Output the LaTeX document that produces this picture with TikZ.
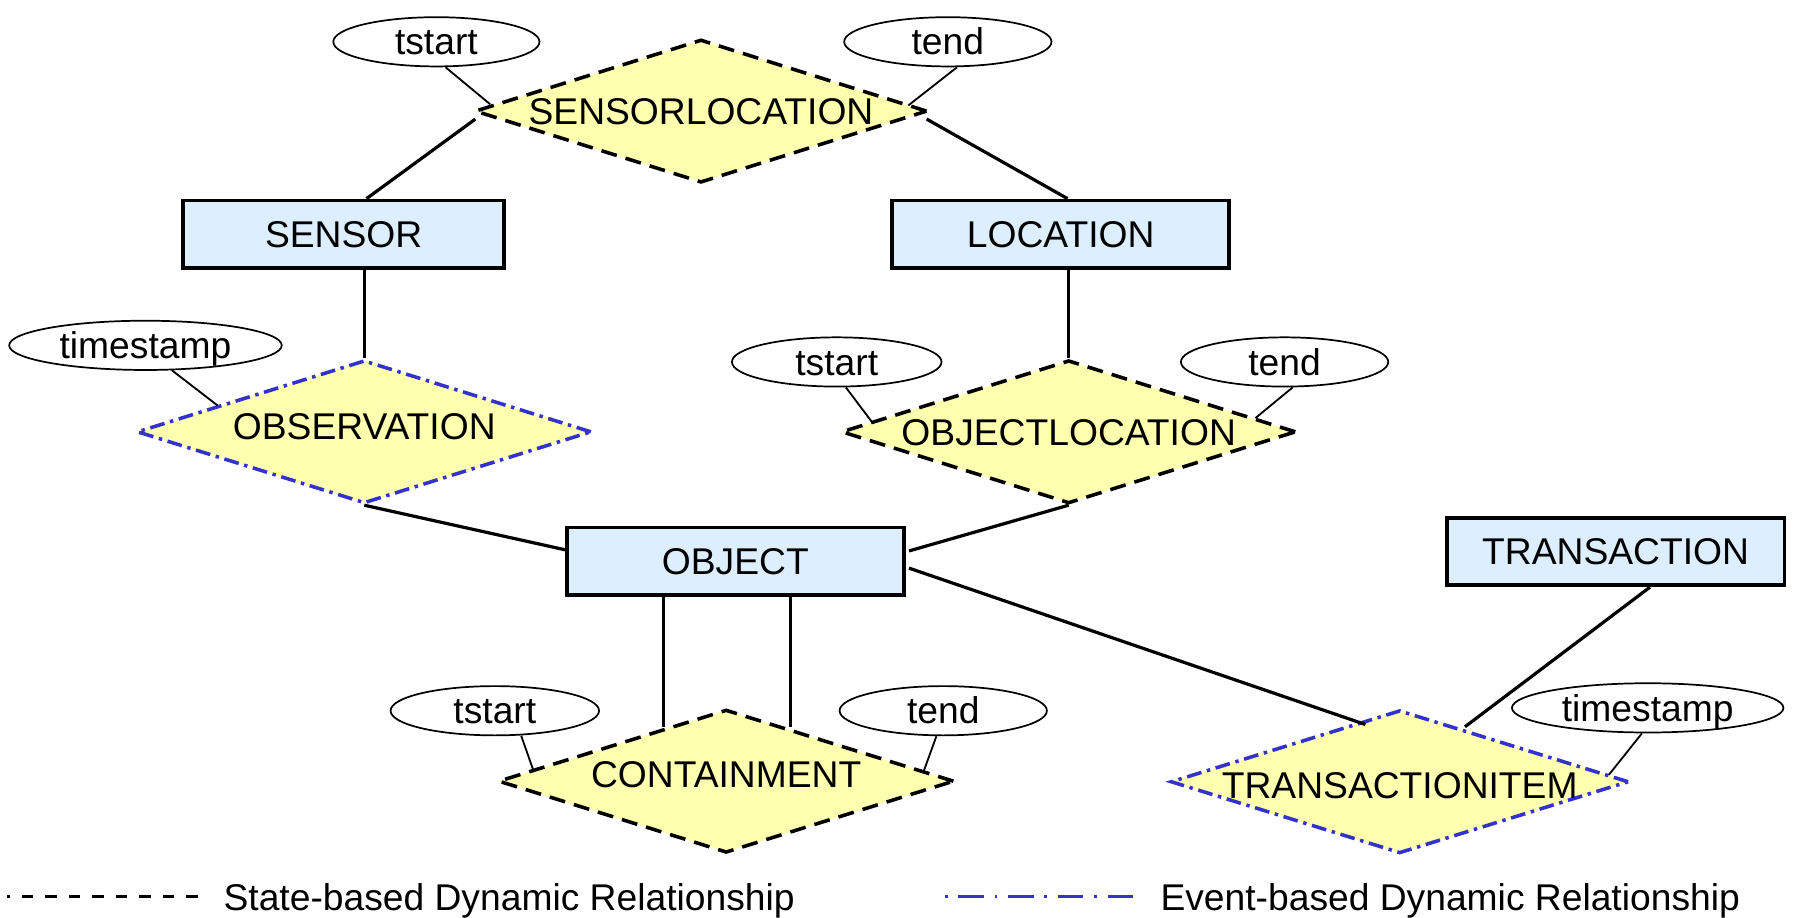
\documentclass[tikz,border=0pt]{standalone}
\usepackage{fontspec}
\setmainfont{Liberation Sans}
\usetikzlibrary{shapes.geometric}
\definecolor{entityfill}{RGB}{221,238,255}
\definecolor{relfill}{RGB}{255,255,176}
\definecolor{eventblue}{RGB}{51,51,204}
\begin{document}
\begin{tikzpicture}[x=1pt,y=-1pt,
  every node/.style={font=\fontsize{32.5}{38}\selectfont, text height=23pt, text depth=0pt},
  entity/.style={rectangle, draw, line width=3.2pt, fill=entityfill, minimum height=59pt, inner sep=0pt},
  rel/.style={diamond, fill=relfill, inner sep=0pt, minimum width=398pt, minimum height=125pt, line width=3.1pt},
  staterel/.style={rel, draw=black, dash pattern=on 14pt off 8pt},
  eventrel/.style={rel, draw=eventblue, dash pattern=on 13pt off 5pt on 3pt off 5pt},
  attr/.style={ellipse, draw, line width=1.5pt, fill=white, inner sep=0pt, minimum height=43pt},
  link/.style={line width=2.8pt},
  attrlink/.style={line width=1.6pt},
]
\useasboundingbox (0,0) rectangle (1568,801);

% entities
\node[entity, minimum width=280pt] (sensor) at (300,204.5) {SENSOR};
\node[entity, minimum width=294pt] (location) at (926,204.5) {LOCATION};
\node[entity, minimum width=294pt] (object) at (642,490) {OBJECT};
\node[entity, minimum width=295pt] (transaction) at (1410.5,481.5) {TRANSACTION};

% relationships
\node[staterel, minimum width=395pt, label={center:SENSORLOCATION}] (sl) at (612,97) {};
\node[eventrel, minimum width=397pt, label={[yshift=5pt]center:OBSERVATION}] (obs) at (318,377) {};
\node[staterel, minimum width=397pt, label={center:OBJECTLOCATION}] (ol) at (933,377) {};
\node[staterel, minimum width=398pt, label={[yshift=6pt]center:CONTAINMENT}] (cont) at (634,682) {};
\node[eventrel, minimum width=400pt, label={[yshift=-3pt]center:TRANSACTIONITEM}] (ti) at (1222,682.5) {};

% attributes
\node[attr, minimum width=180pt] (a1) at (381,36.5) {tstart};
\node[attr, minimum width=181pt] (a2) at (827.5,36.5) {tend};
\node[attr, minimum width=238pt] (a3) at (127,301.5) {timestamp};
\node[attr, minimum width=183pt] (a4) at (730.5,316) {tstart};
\node[attr, minimum width=181pt] (a5) at (1121.5,316) {tend};
\node[attr, minimum width=182pt] (a6) at (432,620.5) {tstart};
\node[attr, minimum width=181pt] (a7) at (823.5,620.5) {tend};
\node[attr, minimum width=237pt] (a8) at (1438.5,618) {timestamp};

% relationship links
\draw[link] ([xshift=20pt]sensor.north) -- ([shift={(2,7)}]sl.west);
\draw[link] ([xshift=6pt]location.north) -- ([shift={(-2,7)}]sl.east);
\draw[link] ([xshift=18pt]sensor.south) -- (obs.north);
\draw[link] ([xshift=7pt]location.south) -- (ol.north);
\draw[link] (obs.south) -- ([shift={(0,-10)}]object.west);
\draw[link] (ol.south) -- ([shift={(3,-9)}]object.east);
\draw[link] ([xshift=-63pt]object.south) -- ([shift={(-55,-47)}]cont.center);
\draw[link] ([xshift=48pt]object.south) -- ([shift={(56,-47)}]cont.center);
\draw[link] ([shift={(3,6)}]object.east) -- ([shift={(-30,-50)}]ti.center);
\draw[link] ([xshift=30pt]transaction.south) -- ([shift={(57,-48)}]ti.center);

% attribute links
\draw[attrlink] ([xshift=8pt]a1.south) -- ([shift={(15,-6)}]sl.west);
\draw[attrlink] ([xshift=8pt]a2.south) -- ([shift={(-18,-5)}]sl.east);
\draw[attrlink] ([shift={(23,-0.5)}]a3.south) -- ([shift={(72,-23)}]obs.west);
\draw[attrlink] ([xshift=8pt]a4.south) -- ([shift={(28,-9)}]ol.west);
\draw[attrlink] ([xshift=7pt]a5.south) -- ([shift={(-37,-12)}]ol.east);
\draw[attrlink] ([shift={(23,-0.5)}]a6.south) -- ([shift={(32,-10)}]cont.west);
\draw[attrlink] ([xshift=-6pt]a7.south) -- ([shift={(-28,-9)}]cont.east);
\draw[attrlink] ([xshift=-5pt]a8.south) -- ([shift={(-19,-6)}]ti.east);

% legend
\coordinate (ls1) at (6,783);
\coordinate (ls2) at (175,783);
\coordinate (le1) at (825,783);
\coordinate (le2) at (992,783);
\draw[line width=2.5pt, dash pattern=on 10pt off 10.5pt, dash phase=7.5pt] (ls1) -- (ls2);
\draw[line width=2.5pt, eventblue, dash pattern=on 2.4pt off 9.3pt on 22.4pt off 9.3pt] (le1) -- (le2);
\node[anchor=west, inner sep=0pt] (lstate) at (195,783) {State-based Dynamic Relationship};
\node[anchor=west, inner sep=0pt] (levent) at (1013,783) {Event-based Dynamic Relationship};
\end{tikzpicture}
\end{document}
